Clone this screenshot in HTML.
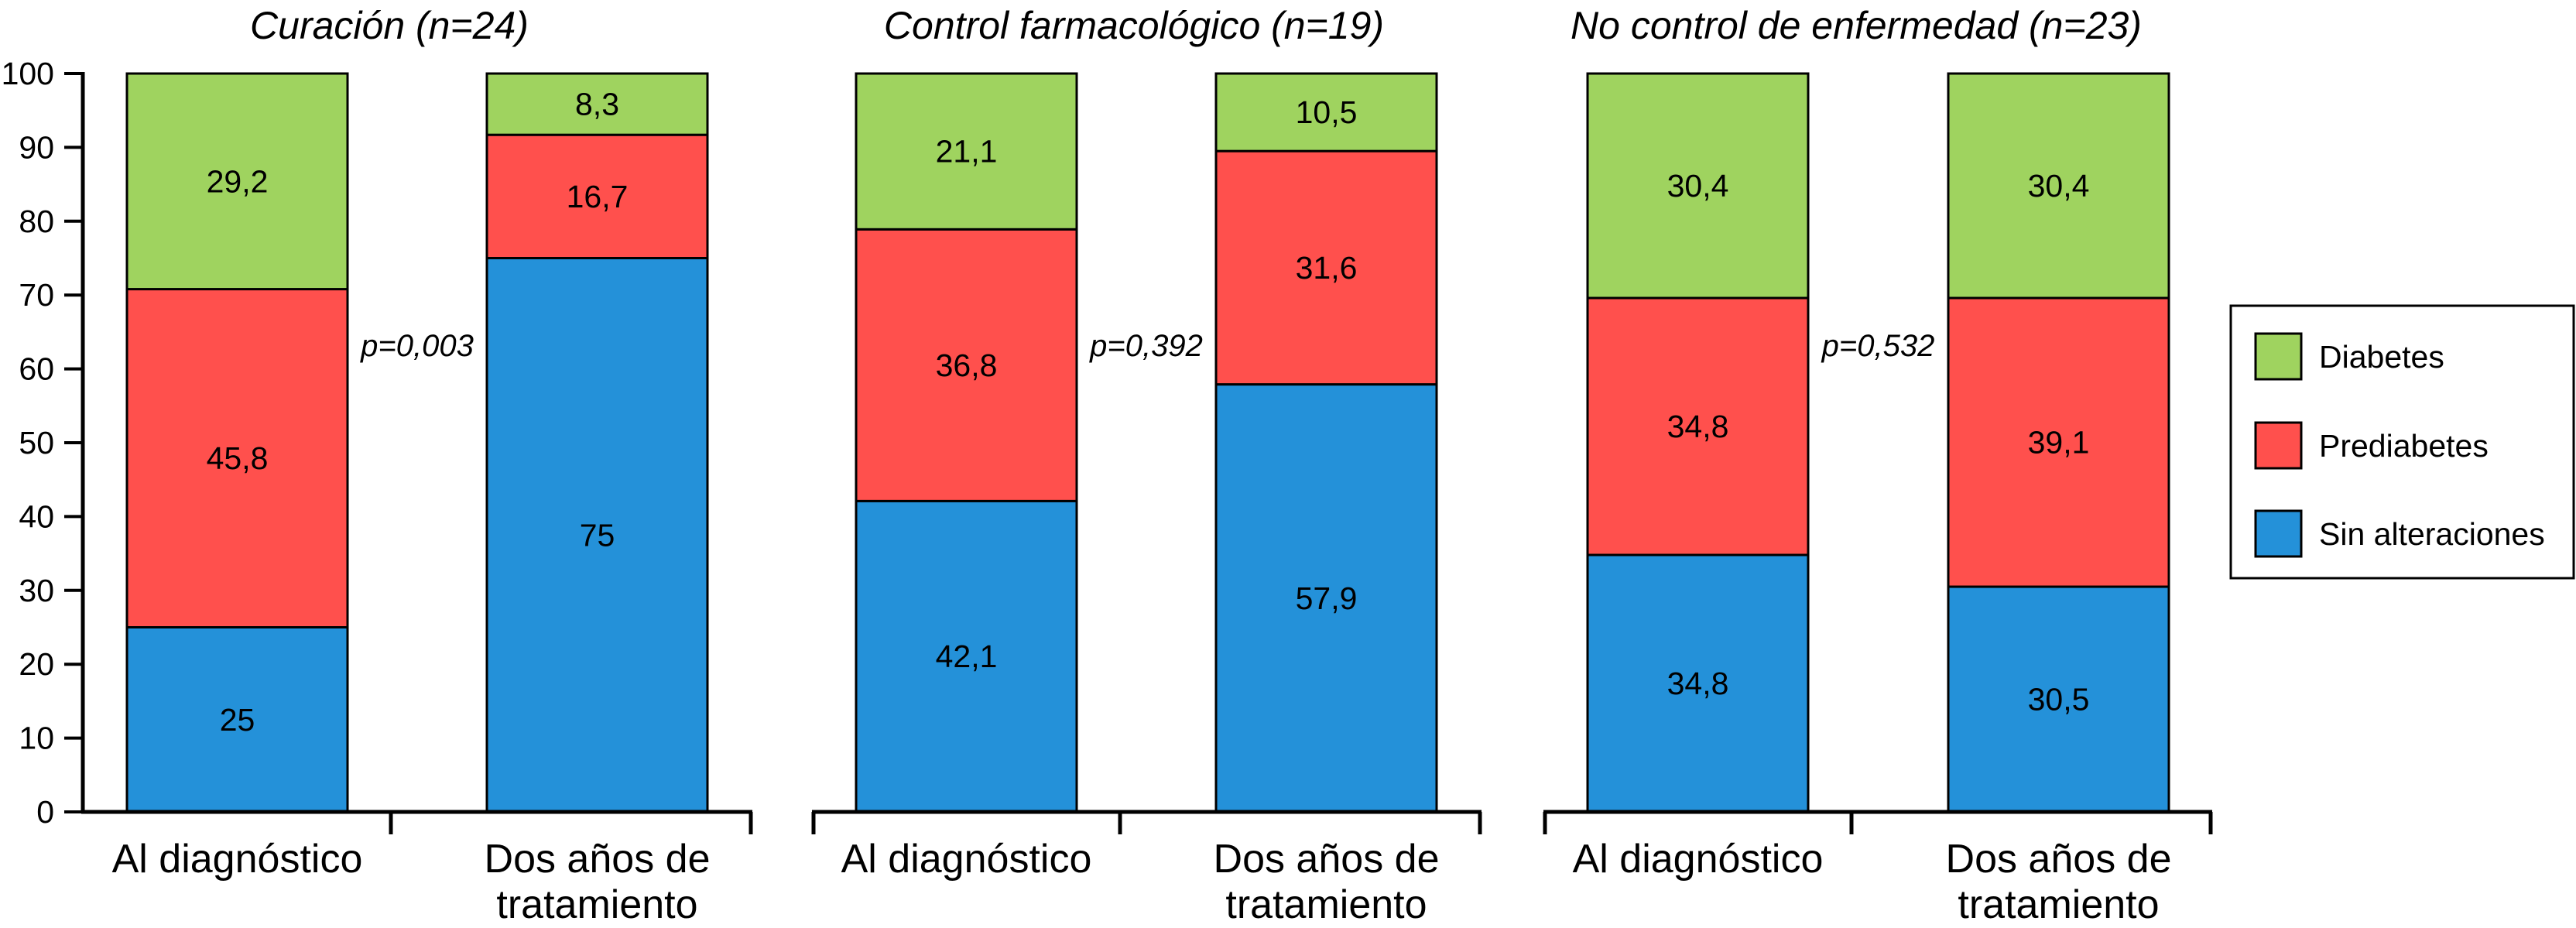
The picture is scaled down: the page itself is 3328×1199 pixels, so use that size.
<!DOCTYPE html>
<html><head><meta charset="utf-8"><style>
html,body{margin:0;padding:0;background:#fff;}
svg{display:block;font-family:"Liberation Sans",Arial,sans-serif;}
</style></head><body>
<svg id="chart" width="3328" height="1199" viewBox="0 0 3328 1199" xmlns="http://www.w3.org/2000/svg"></svg>
<script>
const panelTitles = ["Curación (n=24)", "Control farmacológico (n=19)", "No control de enfermedad (n=23)"];
const categories = ["Al diagnóstico", "Dos años de tratamiento"];
const seriesNames = ["Sin alteraciones", "Prediabetes", "Diabetes"];
const sinAlteraciones = [[25, 75], [42.1, 57.9], [34.8, 30.5]];
const prediabetes = [[45.8, 16.7], [36.8, 31.6], [34.8, 39.1]];
const diabetes = [[29.2, 8.3], [21.1, 10.5], [30.4, 30.4]];
const valueLabels = [[["25","45,8","29,2"],["75","16,7","8,3"]],[["42,1","36,8","21,1"],["57,9","31,6","10,5"]],[["34,8","34,8","30,4"],["30,5","39,1","30,4"]]];
const pValues = ["p=0,003", "p=0,392", "p=0,532"];
const yTicks = [0,10,20,30,40,50,60,70,80,90,100];

const colors = ["#2491d9", "#ff504d", "#9fd35f"];
const NS = "http://www.w3.org/2000/svg";
const svg = document.getElementById("chart");
function el(tag, attrs, text){const e=document.createElementNS(NS,tag);for(const k in attrs)e.setAttribute(k,attrs[k]);if(text!==undefined)e.textContent=text;svg.appendChild(e);return e;}
const y0 = 1049, y100 = 95;
function yScale(v){return y0 - (y0 - y100) * v / 100;}
const panels = [
  {axisL:107, axisR:970, mid:505, bars:[164,629]},
  {axisL:1051, axisR:1912, mid:1447, bars:[1106,1571]},
  {axisL:1996, axisR:2856, mid:2392, bars:[2051,2517]}
];
const titleX = [503, 1465, 2398];
const barW = 285;
const series = [sinAlteraciones, prediabetes, diabetes];

let ya = el("line",{x1:107,y1:y100-2,x2:107,y2:y0+2,stroke:"#000","stroke-width":5});


yTicks.forEach(t=>{
  const y=yScale(t);
  const tk=el("line",{x1:83,y1:y,x2:107,y2:y,stroke:"#000","stroke-width":4});
  
  
  const lb=el("text",{x:70,y:y+14,"text-anchor":"end","font-size":41},String(t));
  
  
});

panels.forEach((p,pi)=>{
  const tt=el("text",{x:titleX[pi],y:50,"text-anchor":"middle","font-size":50,"font-style":"italic"},panelTitles[pi]);
  
  
  categories.forEach((c,ci)=>{
    const x=p.bars[ci];
    let cum=0;
    series.forEach((s,si)=>{
      const v=s[pi][ci];
      const yt=yScale(cum+v), yb=yScale(cum);
      const r=el("rect",{x:x,y:yt,width:barW,height:yb-yt,fill:colors[si],stroke:"#000","stroke-width":3});
      
      
      const t=el("text",{x:x+barW/2,y:(yt+yb)/2+14,"text-anchor":"middle","font-size":41},valueLabels[pi][ci][si]);
      
      
      cum+=v;
    });
    const cx=x+barW/2;
    if(ci===0){
      const l=el("text",{x:cx,y:1127,"text-anchor":"middle","font-size":52},c);
      
      
    } else {
      const l1=el("text",{x:cx,y:1127,"text-anchor":"middle","font-size":52},"Dos años de");
      
      
      const l2=el("text",{x:cx,y:1186,"text-anchor":"middle","font-size":52},"tratamiento");
      
      
    }
  });
  const xa=el("line",{x1:p.axisL-2,y1:y0,x2:p.axisR+2,y2:y0,stroke:"#000","stroke-width":5});
  
  
  [p.axisL,p.mid,p.axisR].forEach((tx,k)=>{
    if(pi===0&&k===0)return;
    const tk=el("line",{x1:tx,y1:y0,x2:tx,y2:1078,stroke:"#000","stroke-width":5});
    
    
  });
  const pv=el("text",{x:(p.bars[0]+barW+p.bars[1])/2,y:460,"text-anchor":"middle","font-size":40,"font-style":"italic"},pValues[pi]);
  
  
});

const lg=el("rect",{x:2882,y:395,width:443,height:352,fill:"#fff",stroke:"#000","stroke-width":3});


const legendOrder=[2,1,0];
const legendY=[431,546,660];
legendOrder.forEach((si,i)=>{
  const sw=el("rect",{x:2914,y:legendY[i],width:59,height:59,fill:colors[si],stroke:"#000","stroke-width":3});
  
  
  const lt=el("text",{x:2996,y:legendY[i]+44,"font-size":41},seriesNames[si]);
  
  
});
</script>
</body></html>
